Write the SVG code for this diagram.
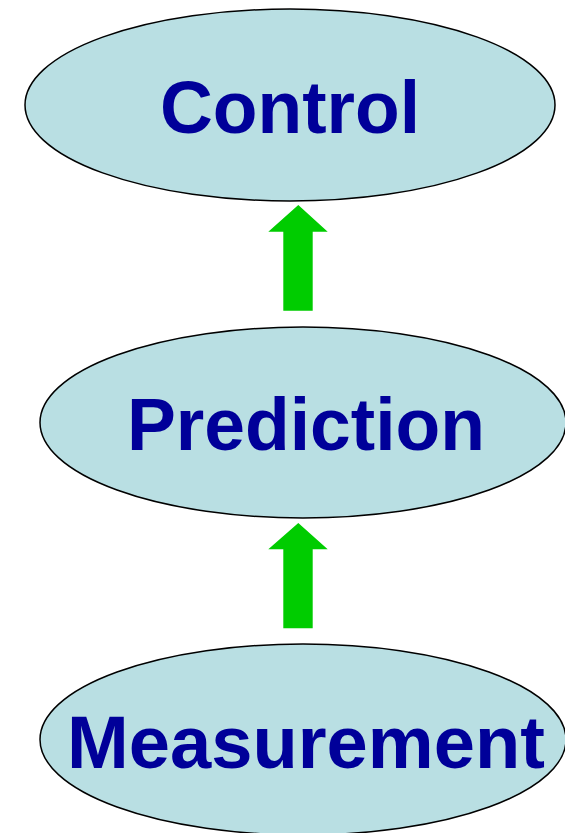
<svg xmlns="http://www.w3.org/2000/svg" width="565" height="833" viewBox="0 0 565 833">
<style>
.node ellipse{fill:#B9DFE3;stroke:#000;stroke-width:1.5}
.node text{font-family:"Liberation Sans",Arial,sans-serif;font-weight:bold;font-size:75px;fill:#000099;text-anchor:middle}
.arrow{fill:#00CC00}
</style>
<rect width="565" height="833" fill="#fff"/>
<g id="control" class="node">
<ellipse cx="290" cy="105" rx="265" ry="96"/>
<text x="290" y="133" textLength="260" lengthAdjust="spacingAndGlyphs">Control</text>
</g>
<g id="prediction" class="node">
<ellipse cx="303" cy="422.5" rx="263" ry="95.5"/>
<text x="306" y="450" textLength="358" lengthAdjust="spacingAndGlyphs">Prediction</text>
</g>
<g id="measurement" class="node">
<ellipse cx="303" cy="739.5" rx="263" ry="95.5"/>
<text x="306" y="768" textLength="478" lengthAdjust="spacingAndGlyphs">Measurement</text>
</g>
<g id="connectors">
<polygon class="arrow" points="298.3,205 327.7,231.7 312.7,231.7 312.7,310.7 283.3,310.7 283.3,231.7 268.3,231.7"/>
<polygon class="arrow" points="298.3,523 327.7,549.3 312.7,549.3 312.7,628.3 283.3,628.3 283.3,549.3 268.3,549.3"/>
</g>
</svg>
